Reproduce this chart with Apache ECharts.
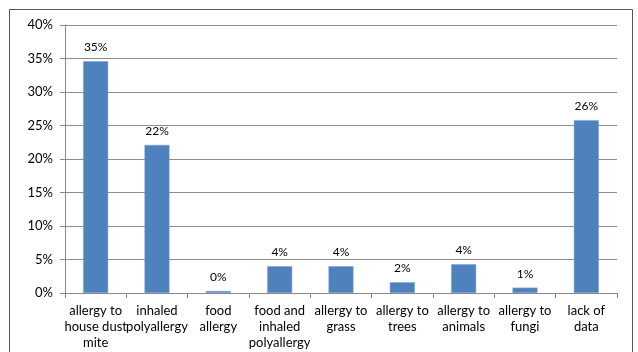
<!DOCTYPE html>
<html>
<head>
<meta charset="utf-8">
<script src="https://cdn.jsdelivr.net/npm/echarts@6/dist/echarts.min.js"></script>
<style>
  html, body { margin: 0; padding: 0; background: #fff; }
  #chart { width: 638px; height: 352px; }
</style>
</head>
<body>
<div id="chart"></div>
<script>
// Allergy types among patients (share of total, %)
const categories = [
  'allergy to\nhouse dust\nmite',
  'inhaled\npolyallergy',
  'food\nallergy',
  'food and\ninhaled\npolyallergy',
  'allergy to\ngrass',
  'allergy to\ntrees',
  'allergy to\nanimals',
  'allergy to\nfungi',
  'lack of\ndata'
];
const shares = [34.6, 22.1, 0.3, 4.0, 4.0, 1.6, 4.3, 0.8, 25.8];
const yTicks = [0, 5, 10, 15, 20, 25, 30, 35, 40];

const chart = echarts.init(document.getElementById('chart'), null, { renderer: 'canvas' });
const font = 'Lato, "Liberation Sans", sans-serif';

chart.setOption({
  animation: false,
  graphic: [{
    type: 'rect',
    shape: { x: 9.5, y: 9.5, width: 623, height: 360 },
    style: { fill: 'none', stroke: '#555', lineWidth: 1 },
    z: -1
  }],
  grid: { left: 65, right: 21, top: 25, bottom: 59 },
  xAxis: {
    type: 'category',
    data: categories,
    axisLine: { lineStyle: { color: '#888', width: 1 } },
    axisTick: { show: true, length: 5, lineStyle: { color: '#888' } },
    axisLabel: {
      interval: 0,
      color: '#000',
      fontFamily: font,
      fontSize: 13,
      lineHeight: 16,
      margin: 10
    }
  },
  yAxis: {
    type: 'value',
    min: yTicks[0],
    max: yTicks[yTicks.length - 1],
    interval: 5,
    axisLine: { show: true, lineStyle: { color: '#888', width: 1 } },
    axisTick: { show: true, length: 5, lineStyle: { color: '#888' } },
    splitLine: { lineStyle: { color: '#8c8c8c', width: 1 } },
    axisLabel: {
      color: '#000',
      fontFamily: font,
      fontSize: 13,
      margin: 12,
      formatter: v => v + '%'
    }
  },
  series: [{
    type: 'bar',
    data: shares,
    barWidth: 25,
    itemStyle: { color: '#4F81BD', borderColor: '#7ea3d1', borderWidth: 0.5 },
    label: {
      show: true,
      position: 'top',
      distance: 8,
      color: '#000',
      fontFamily: font,
      fontSize: 12,
      formatter: p => Math.round(p.value) + '%'
    }
  }]
});
</script>
</body>
</html>
